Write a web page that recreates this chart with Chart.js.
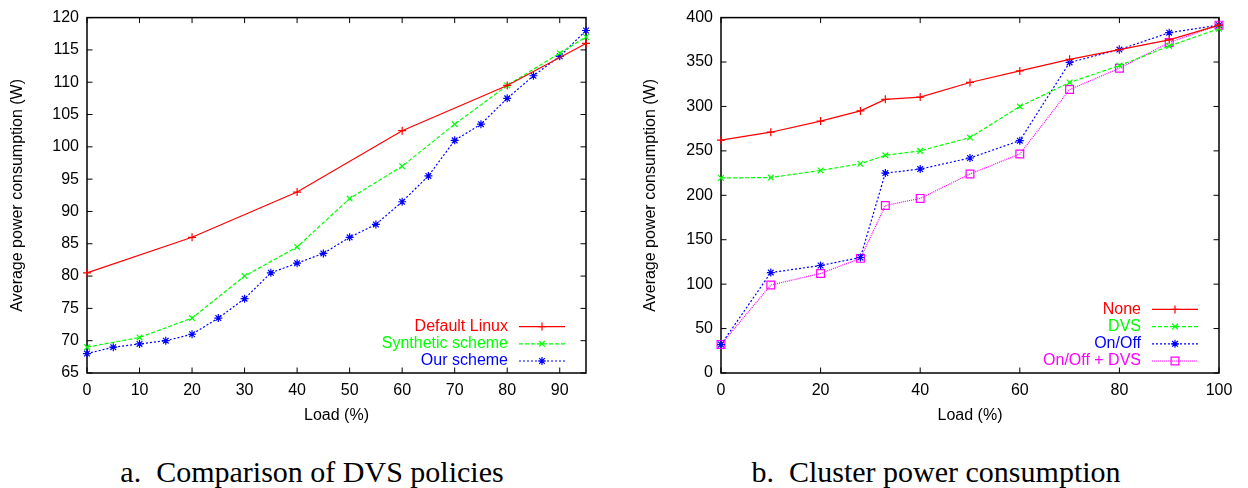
<!DOCTYPE html>
<html>
<head>
<meta charset="utf-8">
<script src="https://cdn.jsdelivr.net/npm/chart.js@4.4.1/dist/chart.umd.min.js"></script>
<style>
  body { margin: 0; background: #fff; width: 1248px; height: 488px; overflow: hidden; position: relative; }
  canvas { position: absolute; top: 0; }
  #dvsChart { left: 0; }
  #clusterChart { left: 630px; }
  .caption { position: absolute; top: 455px; width: 624px; line-height: 34px; font-family: "Liberation Serif", serif; font-size: 30px; white-space: pre; text-align: center; color: #000; }
</style>
</head>
<body>
<canvas id="dvsChart" width="620" height="440"></canvas>
<canvas id="clusterChart" width="618" height="440"></canvas>
<div class="caption" style="left:0">a.  Comparison of DVS policies</div>
<div class="caption" style="left:624px">b.  Cluster power consumption</div>
<script>
// (a) DVS policies
const linuxLoad = [0, 20, 40, 60, 80, 95];
const linuxPower = [80.5, 86, 93, 102.5, 109.5, 116];
const syntheticLoad = [0, 10, 20, 30, 40, 50, 60, 70, 80, 90, 95];
const syntheticPower = [69, 70.5, 73.5, 80, 84.5, 92, 97, 103.5, 109.5, 114.5, 117];
const ourLoad = [0, 5, 10, 15, 20, 25, 30, 35, 40, 45, 50, 55, 60, 65, 70, 75, 80, 85, 90, 95];
const ourPower = [68, 69, 69.5, 70, 71, 73.5, 76.5, 80.5, 82, 83.5, 86, 88, 91.5, 95.5, 101, 103.5, 107.5, 111, 114, 118];

// (b) cluster power
const clusterLoad = [0, 10, 20, 28, 33, 40, 50, 60, 70, 80, 90, 100];
const nonePower = [262, 271, 283.5, 295, 308, 310.5, 327, 340, 353, 364, 375, 391.5];
const dvsPower = [219.5, 220, 228, 235.5, 245, 250, 265, 300, 327, 346, 368, 387.5];
const onOffPower = [32, 113, 121, 130, 225, 229.5, 242, 261.5, 349.5, 364, 383, 391.5];
const onOffDvsPower = [32, 99, 112, 129, 188.5, 196.5, 224, 246.5, 319, 343, 372, 391.5];

const FONT = '"Liberation Sans", Arial, sans-serif';

function series(label, xs, ys, color, dash, style, radius) {
  return {
    label: label,
    data: xs.map((x, i) => ({ x: x, y: ys[i] })),
    borderColor: color,
    borderWidth: 1.2,
    borderDash: dash,
    pointStyle: style,
    pointRadius: radius,
    pointHoverRadius: radius,
    pointBorderColor: color,
    pointBackgroundColor: 'rgba(0,0,0,0)',
    pointBorderWidth: 1.2,
    tension: 0,
    fill: false,
    clip: false
  };
}

// gnuplot style box with inward ticks on every side
const framePlugin = {
  id: 'frame',
  beforeDatasetsDraw(chart) {
    const { ctx, chartArea: a, scales } = chart;
    const t = 5.5;
    ctx.save();
    ctx.strokeStyle = '#000';
    ctx.lineWidth = 1;
    ctx.beginPath();
    scales.x.ticks.forEach(tk => {
      const px = scales.x.getPixelForValue(tk.value);
      ctx.moveTo(px, a.bottom); ctx.lineTo(px, a.bottom - t);
      ctx.moveTo(px, a.top); ctx.lineTo(px, a.top + t);
    });
    scales.y.ticks.forEach(tk => {
      const py = scales.y.getPixelForValue(tk.value);
      ctx.moveTo(a.left, py); ctx.lineTo(a.left + t, py);
      ctx.moveTo(a.right, py); ctx.lineTo(a.right - t, py);
    });
    ctx.stroke();
    ctx.lineWidth = 1.5;
    ctx.strokeRect(a.left, a.top, a.right - a.left, a.bottom - a.top);
    ctx.restore();
  }
};

// key in the lower right corner: label, then line sample with marker
const keyPlugin = {
  id: 'key',
  afterDatasetsDraw(chart) {
    const { ctx, chartArea: a } = chart;
    const sets = chart.data.datasets;
    ctx.save();
    ctx.font = '16px ' + FONT;
    ctx.textAlign = 'right';
    ctx.textBaseline = 'middle';
    sets.forEach((ds, i) => {
      const y = a.bottom - 12 - (sets.length - 1 - i) * 17.2;
      const x0 = a.right - 67, x1 = a.right - 21;
      ctx.fillStyle = ds.borderColor;
      ctx.fillText(ds.label, a.right - 78, y);
      ctx.strokeStyle = ds.borderColor;
      ctx.lineWidth = ds.borderWidth;
      ctx.setLineDash(ds.borderDash);
      ctx.beginPath(); ctx.moveTo(x0, y); ctx.lineTo(x1, y); ctx.stroke();
      ctx.setLineDash([]);
      ctx.fillStyle = 'rgba(0,0,0,0)';
      ctx.lineWidth = ds.pointBorderWidth;
      Chart.helpers.drawPoint(ctx, { pointStyle: ds.pointStyle, radius: ds.pointRadius, rotation: 0, borderWidth: ds.pointBorderWidth }, (x0 + x1) / 2, y);
    });
    ctx.restore();
  }
};

function makeChart(id, datasets, xr, yr, yWidth, titlePad, padRight) {
  return new Chart(document.getElementById(id), {
    type: 'line',
    data: { datasets: datasets },
    plugins: [framePlugin, keyPlugin],
    options: {
      responsive: false,
      animation: false,
      layout: { padding: { top: 15, right: padRight, bottom: 0, left: 0 } },
      plugins: { legend: { display: false }, tooltip: { enabled: false } },
      scales: {
        x: {
          type: 'linear', min: xr[0], max: xr[1],
          grid: { display: false, drawTicks: false },
          border: { display: false },
          ticks: { stepSize: xr[2], includeBounds: false, color: '#000', padding: 8, font: { family: FONT, size: 16 } },
          title: { display: true, text: 'Load (%)', color: '#000', font: { family: FONT, size: 16 }, padding: { top: 0, bottom: 14.4 } },
          afterFit(s) { s.height = 67; }
        },
        y: {
          type: 'linear', min: yr[0], max: yr[1],
          grid: { display: false, drawTicks: false },
          border: { display: false },
          ticks: { stepSize: yr[2], color: '#000', padding: 8, font: { family: FONT, size: 16 } },
          title: { display: true, text: 'Average power consumption (W)', color: '#000', font: { family: FONT, size: 16 }, padding: { top: titlePad, bottom: 0 } },
          afterFit(s) { s.width = yWidth; }
        }
      }
    }
  });
}

makeChart('dvsChart', [
  series('Default Linux', linuxLoad, linuxPower, '#ff0000', [], 'cross', 4),
  series('Synthetic scheme', syntheticLoad, syntheticPower, '#00ff00', [4, 2], 'crossRot', 4),
  series('Our scheme', ourLoad, ourPower, '#0000ff', [2, 2], 'star', 4)
], [0, 95, 10], [65, 120, 5], 87, 8.4, 34);

makeChart('clusterChart', [
  series('None', clusterLoad, nonePower, '#ff0000', [], 'cross', 4),
  series('DVS', clusterLoad, dvsPower, '#00ff00', [4, 2], 'crossRot', 4),
  series('On/Off', clusterLoad, onOffPower, '#0000ff', [2, 2], 'star', 4),
  series('On/Off + DVS', clusterLoad, onOffDvsPower, '#ff00ff', [1, 1], 'rect', 5.5)
], [0, 100, 20], [0, 400, 50], 91, 11.4, 29);
</script>
</body>
</html>
